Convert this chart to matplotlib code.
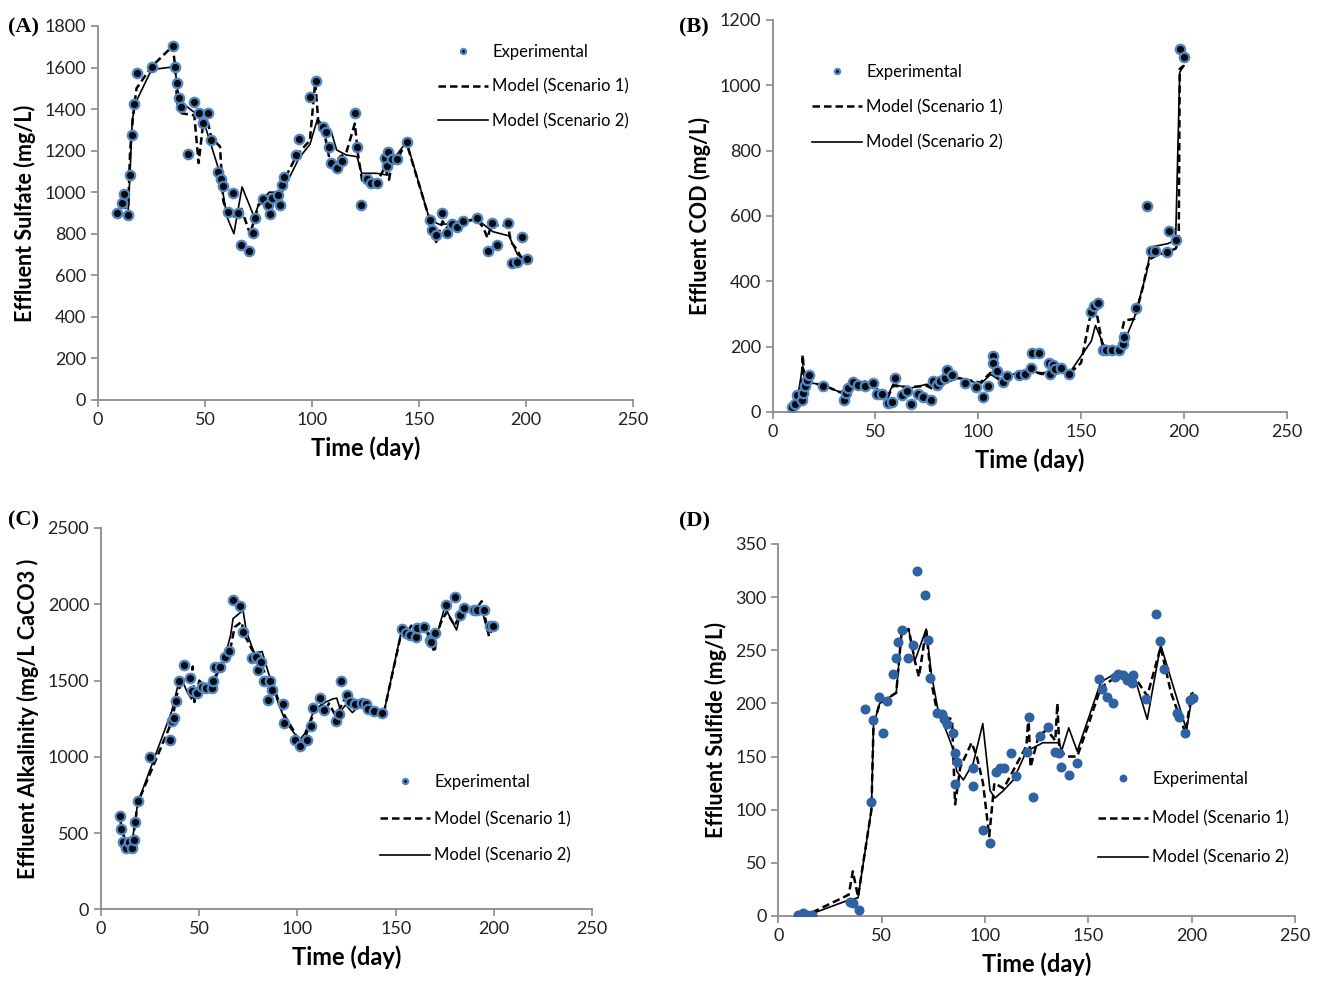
import numpy as np
import matplotlib
matplotlib.use('Agg')
import matplotlib.pyplot as plt

plt.rcParams['font.family'] = ['Lato', 'DejaVu Sans']

# ---- panel A: effluent sulfate ----
a_day = [9, 11, 12, 14, 15, 16, 17, 18, 25, 35, 36, 37, 38, 39, 42, 45, 47, 49, 51.5, 53,
         56, 57.5, 58.6, 60.6, 63, 65.6, 67, 70.7, 72.3, 73.4, 77.3, 79.5, 80.4, 81.4, 84.2,
         85.2, 85.8, 87.1, 92.5, 94.1, 99, 102, 105, 106.7, 108.1, 108.7, 111.8, 114, 120.1,
         121, 122.8, 125.7, 127.5, 130.2, 134.1, 134.9, 135.7, 137.2, 139.6, 144.2, 155.1,
         155.9, 157.9, 160.6, 162.9, 165.3, 167.9, 170.7, 176.9, 182.1, 184.3, 186.3, 191.7,
         193.3, 195.9, 198.3, 200.3]
a_exp = [900, 949, 990, 889, 1081, 1274, 1424, 1572, 1604, 1704, 1604, 1524, 1455, 1412, 1182,
         1436, 1383, 1334, 1383, 1251, 1096, 1062, 1030, 906, 998, 898, 746, 718, 802, 877, 968,
         938, 893, 970, 986, 938, 1036, 1075, 1179, 1254, 1460, 1536, 1316, 1291, 1216, 1139,
         1115, 1151, 1380, 1216, 938, 1063, 1042, 1046, 1166, 1126, 1195, 1158, 1158, 1243, 866,
         818, 794, 901, 802, 847, 834, 863, 877, 718, 850, 746, 850, 661, 665, 786, 677]
a_s1_day = [9, 12, 14, 15, 16.5, 18, 25, 35, 36, 37, 39, 45, 47, 49, 51.5, 53, 57, 58.5, 60.5,
            65.5, 67, 71, 73.5, 75, 80, 82, 84, 86, 88, 93, 99, 101.5, 103, 106.5, 108.5, 111,
            113, 116, 120, 121.5, 123.5, 126, 128, 131, 134, 136, 138, 140, 144, 155, 156.5,
            158, 161, 163, 166, 170, 177, 180, 182, 184, 187, 191.5, 193, 196, 198, 200]
a_s1 = [900, 950, 890, 1200, 1380, 1500, 1604, 1704, 1604, 1430, 1380, 1370, 1140, 1320, 1330,
        1260, 1220, 960, 890, 880, 920, 800, 880, 940, 960, 990, 920, 1030, 1080, 1180, 1250,
        1530, 1330, 1250, 1140, 1140, 1170, 1190, 1330, 1180, 1050, 1080, 1050, 1060, 1120, 1060,
        1180, 1160, 1243, 866, 820, 760, 860, 830, 850, 860, 870, 830, 780, 850, 840, 840, 760,
        720, 680, 690]
a_s2_day = [9, 14, 15, 16, 18, 25, 36, 37, 39, 45.5, 50, 56.7, 60.3, 63.5, 67.3, 73, 75, 80, 86,
            94, 99, 102.5, 107, 109, 111.5, 116, 121, 123.2, 125.5, 130, 135, 137.2, 139.6,
            144.2, 155, 159.5, 168.5, 177, 184.5, 192, 196, 197.5, 200]
a_s2 = [900, 890, 1100, 1350, 1440, 1590, 1604, 1500, 1432, 1380, 1320, 1100, 880, 800, 1025,
        880, 940, 1000, 1000, 1165, 1230, 1350, 1307, 1291, 1203, 1179, 1171, 1091, 1091, 1091,
        1083, 1171, 1180, 1243, 866, 845, 850, 870, 810, 790, 700, 690, 690]

# ---- panel B: effluent COD ----
b_day = [9.2, 10.8, 12, 14.1, 14.9, 15.7, 16.8, 17.8, 24.6, 34.7, 35.6, 36.8, 38.9, 41.6, 44.9,
         48.9, 50.6, 53, 56.2, 57.9, 59.5, 62.7, 65.2, 67.1, 70.8, 72.9, 76.8, 78.1, 79.8, 81.4,
         83.8, 84.6, 87.1, 93.5, 98.9, 102.1, 104.9, 107, 107.3, 108.9, 111.9, 114.1, 119.9,
         122.7, 125.5, 126.3, 129.5, 134.2, 135.1, 136.4, 137.5, 140.3, 144, 154.9, 156.2,
         158.1, 160.7, 162.3, 165.1, 168.3, 170.5, 171.1, 176.5, 182.2, 184.1, 186.2, 191.9,
         192.7, 196, 198, 200.3]
b_exp = [16, 24, 52, 37, 57, 80, 98, 113, 80, 37, 57, 72, 93, 83, 80, 88, 55, 55, 29, 32, 103,
         52, 65, 24, 55, 47, 37, 96, 83, 96, 103, 128, 113, 88, 76, 47, 80, 171, 149, 126, 93,
         110, 113, 116, 134, 180, 180, 151, 116, 144, 131, 134, 116, 307, 324, 333, 190, 190,
         190, 190, 208, 229, 317, 630, 494, 494, 491, 555, 527, 1110, 1088]
b_s1_day = [9, 12, 14, 14.6, 15.5, 18, 24.6, 33, 40, 46, 50, 56, 58.6, 66.6, 75, 78, 85, 91,
            101, 106, 110, 115, 119, 123, 131, 140, 144, 150, 154, 156, 158, 160.5, 168, 171,
            176, 180, 182, 184, 187, 192, 196, 197.5, 198, 200]
b_s1 = [20, 40, 60, 175, 100, 90, 82, 60, 85, 95, 65, 45, 80, 76, 80, 70, 110, 103, 90, 120,
        100, 115, 120, 130, 116, 123, 116, 150, 280, 320, 290, 200, 190, 280, 285, 380, 440, 470,
        480, 490, 500, 520, 1050, 1060]
b_s2_day = [9, 12, 14.6, 16, 18, 24.6, 33, 46, 56, 58.6, 66.6, 75, 78, 91, 101, 106, 110, 119,
            123, 131, 140, 144, 155, 157, 161, 168, 171, 176, 182, 184, 192, 196, 198, 200]
b_s2 = [20, 40, 140, 110, 90, 82, 60, 90, 50, 85, 72, 85, 75, 105, 85, 115, 100, 120, 125, 120,
        125, 116, 217, 265, 205, 190, 215, 290, 430, 505, 515, 525, 1040, 1060]

# ---- panel C: effluent alkalinity ----
c_day = [9.6, 10.3, 11.3, 12.5, 14.1, 15.9, 16.7, 17.5, 18.7, 25.1, 35.2, 36.1, 37.2, 38.2, 39.7,
         42.3, 45.3, 46.2, 49, 51.2, 53.4, 56.3, 57.1, 57.9, 60.5, 63, 65.2, 67.2, 70.9, 72.5,
         76.9, 78.9, 79.8, 81.5, 83.1, 84.8, 86, 87.1, 92.4, 93.3, 98.8, 101.2, 105, 106.7, 108.1,
         111.3, 113.5, 119.4, 121.1, 122.4, 125.3, 126.5, 129.1, 132.8, 134.8, 135.8, 139.2,
         143.2, 153.4, 155.1, 157.3, 160.1, 161.1, 164.5, 167.4, 168.2, 170.2, 175.8, 180.3,
         183, 184.7, 190.1, 191.4, 194.8, 198.2, 199.5]
c_exp = [615, 529, 441, 405, 441, 405, 452, 572, 708, 1001, 1108, 1234, 1255, 1364, 1499, 1603,
         1516, 1429, 1418, 1455, 1451, 1451, 1499, 1592, 1592, 1657, 1694, 2026, 1989, 1820, 1650,
         1657, 1570, 1624, 1499, 1375, 1494, 1440, 1346, 1223, 1108, 1071, 1108, 1201, 1320, 1385,
         1310, 1234, 1281, 1494, 1403, 1359, 1346, 1353, 1346, 1316, 1303, 1288, 1841, 1809,
         1798, 1787, 1846, 1852, 1766, 1750, 1809, 1997, 2048, 1932, 1976, 1961, 1961, 1961,
         1859, 1859]
c_s1_day = [9.6, 11, 13, 15.9, 18.7, 36, 39, 42, 44, 45.5, 46.7, 47.5, 50, 53, 57, 63, 66, 68,
            71.5, 73, 77, 80, 83, 85, 88, 93, 99, 101, 104, 108, 112, 114, 116, 119, 121, 124,
            127, 130, 134, 136, 139, 144, 153, 155, 158, 162, 165, 169.8, 171, 173, 176, 180,
            184, 190, 193.8, 197.5, 200]
c_s1 = [600, 500, 430, 430, 700, 1230, 1430, 1500, 1520, 1480, 1592, 1360, 1500, 1460, 1500,
        1640, 1720, 1850, 1885, 1800, 1700, 1650, 1560, 1450, 1450, 1280, 1150, 1080, 1130, 1280,
        1350, 1300, 1350, 1280, 1300, 1380, 1340, 1380, 1330, 1360, 1300, 1290, 1820, 1800,
        1860, 1800, 1850, 1685, 1800, 1880, 1950, 1860, 1960, 1950, 2020, 1790, 1860]
c_s2_day = [9.6, 11, 13, 15.9, 18.7, 36, 39, 42, 44, 46, 49, 50, 56, 63, 66, 67.2, 72.3, 74, 78,
            82, 85, 90, 94, 101, 103.6, 108, 111, 114.5, 118, 120, 122, 124.5, 128, 133, 136,
            140, 144, 153, 158, 163, 168, 171, 175, 181, 183.5, 194, 197, 199]
c_s2 = [600, 500, 450, 450, 700, 1300, 1460, 1480, 1420, 1380, 1440, 1490, 1450, 1650, 1800,
        1906, 1960, 1820, 1680, 1690, 1560, 1360, 1230, 1110, 1150, 1290, 1330, 1360, 1380, 1385,
        1300, 1340, 1290, 1360, 1300, 1320, 1290, 1830, 1800, 1850, 1800, 1800, 1982, 1832,
        1960, 1960, 1810, 1860]

# ---- panel D: effluent sulfide ----
d_day = [9.5, 11.8, 13.8, 16.1, 34.7, 36.3, 39.2, 41.9, 44.7, 45.9, 48.8, 50.8, 52.7, 55.6, 56.9,
         58, 59.7, 62.8, 65.3, 66.9, 70.9, 72.6, 73.4, 76.6, 79.1, 80.2, 81.5, 84.4, 85.5, 86.3,
         85.5, 94, 94, 99.2, 102.4, 105.3, 107.3, 109.2, 112.4, 115, 120.5, 121.5, 123.4, 126.7,
         130.7, 133.9, 136, 136.6, 140.7, 144.4, 155.3, 156.5, 158.9, 161.8, 162.9, 164.5,
         166.9, 168.6, 171, 171.8, 177.9, 182.8, 184.7, 186.6, 192.8, 194, 196.8, 199.2, 200.8]
d_exp = [1, 2.5, 0.5, 1, 13.5, 12, 5.6, 195, 107.5, 184, 205.7, 172.5, 202.5, 228, 243, 258, 269,
         242.5, 255, 324.5, 302, 259.6, 223.6, 190.7, 190, 185, 181, 172.5, 153, 145, 124, 139,
         122, 81, 68.4, 135, 139, 139, 153.6, 131.7, 154.6, 187, 111.7, 169, 178, 154.6, 153.6,
         140, 132.6, 143.6, 222.7, 213.3, 205.7, 200.7, 224.5, 227.6, 226.7, 222, 219.5, 226.7,
         203.8, 284, 259, 232, 191, 187.5, 172.5, 203, 204.8]
d_s1_day = [11, 16, 34, 36, 38.5, 45, 46, 49, 53, 57, 59.5, 63, 66, 68, 71.5, 74, 77, 84, 85.5,
            88, 93.5, 96, 99, 102, 104.5, 109, 114.5, 120, 121, 122, 126, 130, 134, 135, 136,
            140, 144.6, 150, 156, 165, 172, 178.5, 185, 190, 197, 200]
d_s1 = [0, 3, 20, 42, 18, 100, 180, 200, 205, 210, 265, 270, 240, 225, 270, 220, 190, 185, 105,
        140, 163, 150, 125, 75, 125, 120, 140, 160, 188, 140, 170, 175, 165, 200, 155, 150, 150,
        180, 215, 227, 226, 207, 253, 210, 172, 210]
d_s2_day = [11, 16, 34, 38.5, 45, 46, 49, 53, 57, 59.5, 63, 66, 71.5, 74, 77, 84.7, 86.3, 89.5,
            94.3, 98.9, 102.4, 104.8, 108.9, 113.7, 120, 128, 136, 137, 140.5, 144.6, 156, 162,
            172, 178.5, 185, 197.5, 200.5]
d_s2 = [0, 2, 15, 17, 100, 180, 200, 205, 210, 265, 270, 240, 270, 228, 196, 156, 136, 128, 144,
        181, 118, 111, 118, 128, 155, 163, 163, 155, 177, 155, 220, 227, 227, 185, 255, 175, 210]


def style_axes(ax, ymax, ystep, ylabel):
    ax.set_xlim(0, 250)
    ax.set_ylim(0, ymax)
    ax.set_xticks(np.arange(0, 251, 50))
    ax.set_yticks(np.arange(0, ymax + 1, ystep))
    for s in ['top', 'right']:
        ax.spines[s].set_visible(False)
    for s in ['left', 'bottom']:
        ax.spines[s].set_color('#8a8a8a')
        ax.spines[s].set_linewidth(1.3)
    ax.tick_params(direction='out', length=5, width=1.2, color='#8a8a8a',
                   labelsize=13, labelcolor='#222222')
    ax.set_xlabel('Time (day)', fontsize=17, fontweight='bold', labelpad=6)
    ax.set_ylabel(ylabel, fontsize=15.5, fontweight='bold', labelpad=6)


def draw_panel(ax, day, exp, s1_day, s1, s2_day, s2, blue_dots=False):
    ax.plot(s2_day, s2, color='black', lw=1.2, label='Model (Scenario 2)', zorder=2)
    ax.plot(s1_day, s1, color='black', lw=1.8, ls=(0, (3, 1.6)),
            label='Model (Scenario 1)', zorder=3)
    if blue_dots:
        ax.plot(day, exp, 'o', ms=6.2, color='#2f62a3', mec='#2f62a3', ls='none',
                label='Experimental', zorder=4)
    else:
        ax.plot(day, exp, 'o', ms=6.8, color='#0a0a0a', mec='#4f86c6', mew=1.6, ls='none',
                label='Experimental', zorder=4)


def add_legend(ax, x, y, spacing, mscale):
    h, l = ax.get_legend_handles_labels()
    order = [2, 1, 0]
    leg = ax.legend([h[i] for i in order], [l[i] for i in order],
                    loc='upper left', bbox_to_anchor=(x, y), bbox_transform=fig.transFigure,
                    frameon=False, fontsize=12, handlelength=3.0, handletextpad=0.25,
                    labelspacing=spacing, borderpad=0, borderaxespad=0, markerscale=mscale,
                    numpoints=1)
    return leg


fig = plt.figure(figsize=(13.21, 9.83), dpi=100)

axA = fig.add_axes([0.0742, 0.5931, 0.405, 0.3805])
draw_panel(axA, a_day, a_exp, a_s1_day, a_s1, a_s2_day, a_s2)
style_axes(axA, 1800, 200, 'Effluent Sulfate (mg/L)')
add_legend(axA, 0.3316, 0.955, 1.1, 0.55)

axB = fig.add_axes([0.5849, 0.5809, 0.3891, 0.3988])
draw_panel(axB, b_day, b_exp, b_s1_day, b_s1, b_s2_day, b_s2)
style_axes(axB, 1200, 200, 'Effluent COD (mg/L)')
add_legend(axB, 0.6147, 0.935, 1.15, 0.55)

axC = fig.add_axes([0.0765, 0.0748, 0.3717, 0.3881])
draw_panel(axC, c_day, c_exp, c_s1_day, c_s1, c_s2_day, c_s2)
style_axes(axC, 2500, 500, 'Effluent Alkalinity (mg/L CaCO3 )')
add_legend(axC, 0.2877, 0.2126, 1.25, 0.55)

axD = fig.add_axes([0.5893, 0.0682, 0.391, 0.3784])
draw_panel(axD, d_day, d_exp, d_s1_day, d_s1, d_s2_day, d_s2, blue_dots=True)
style_axes(axD, 350, 50, 'Effluent Sulfide (mg/L)')
add_legend(axD, 0.8312, 0.2157, 1.4, 0.75)

for txt, x, y in [('(A)', 0.006, 0.972), ('(B)', 0.514, 0.972),
                  ('(C)', 0.006, 0.471), ('(D)', 0.514, 0.469)]:
    fig.text(x, y, txt, family='Liberation Serif', fontweight='bold', fontsize=16,
             va='center', ha='left')

fig.savefig('out.png', dpi=100)
